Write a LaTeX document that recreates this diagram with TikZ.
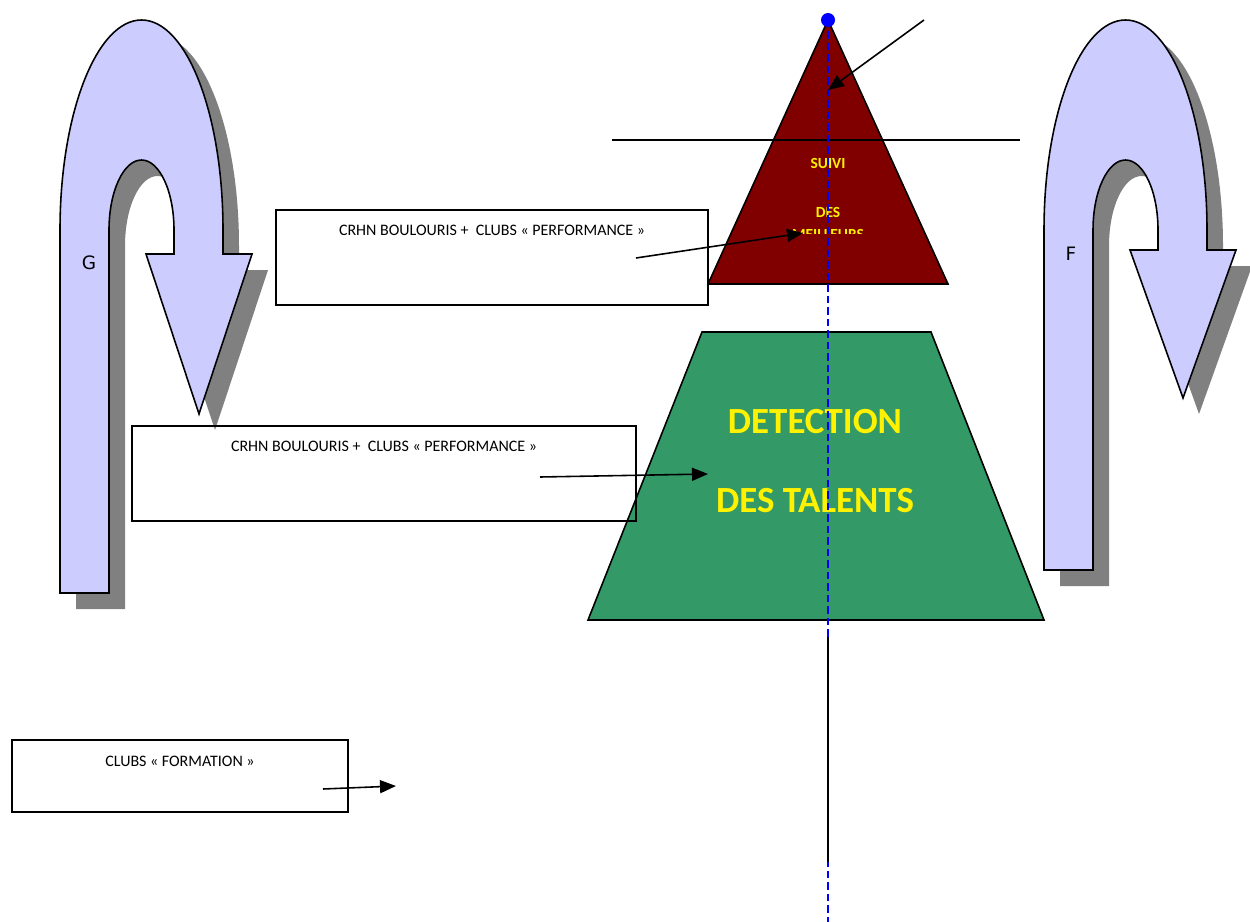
\documentclass[tikz,border=0pt]{standalone}
\usepackage{fontspec}
\setmainfont{Carlito}
\newfontfamily\letterfont{DejaVu Sans}
\usetikzlibrary{positioning,arrows.meta,calc}
\usepackage{xcolor}
\definecolor{lavender}{HTML}{CCCCFF}
\definecolor{shadowgray}{HTML}{808080}
\definecolor{darkmaroon}{HTML}{800000}
\definecolor{talentgreen}{HTML}{339966}

% u-turn arrow: left x, head y, tip y, bottom y
\newcommand{\uturnpath}[4]{(#1,#4) -- (#1,230) arc[start angle=180,end angle=360,x radius=81.5,y radius=210] -- (#1+163,#2) -- (#1+192,#2) -- (#1+139,#3) -- (#1+86,#2) -- (#1+114,#2) -- (#1+114,230) arc[start angle=0,end angle=-180,x radius=32.5,y radius=70] -- (#1+49,#4) -- cycle}

\begin{document}
\begin{tikzpicture}[
  x=0.02cm, y=-0.02cm,
  box/.style={rectangle, draw, line width=0.9pt, inner sep=0pt},
  boxtext/.style={font=\fontsize{9.1}{10}\selectfont, inner sep=0pt},
  pyrtext/.style={font=\fontsize{8.8}{10}\selectfont\bfseries, text=yellow, inner sep=0pt},
  bigtext/.style={font=\fontsize{21}{24}\selectfont\bfseries, text=yellow, inner sep=0pt},
  letter/.style={font=\letterfont\fontsize{10.5}{13}\selectfont, inner sep=0pt},
  link/.style={draw, line width=0.9pt, -{Triangle[length=0.32cm, width=0.26cm]}},
  outline/.style={draw, line width=0.9pt},
]
  \useasboundingbox (0,0) rectangle (1250,922);

  % U-turn arrows with shadows
  \fill[shadowgray, shift={(16,16)}] \uturnpath{60}{254}{414}{593};
  \filldraw[outline, fill=lavender] \uturnpath{60}{254}{414}{593};
  \fill[shadowgray, shift={(16,16)}] \uturnpath{1044}{250}{398}{570};
  \filldraw[outline, fill=lavender] \uturnpath{1044}{250}{398}{570};
  \node[letter] (G) at (89,263) {G};
  \node[letter] (F) at (1071,254) {F};

  % Pyramid
  \coordinate (apex) at (828,20);
  \filldraw[outline, fill=darkmaroon] (apex) -- (948,284) -- (708,284) -- cycle;
  \filldraw[outline, fill=talentgreen] (702,332) -- (931,332) -- (1044,620) -- (588,620) -- cycle;
  \node[pyrtext] (suivi) at (828,163) {SUIVI};
  \node[pyrtext] (des) at (828,212) {DES};
  \begin{scope}
    \clip (700,150) rectangle (960,233);
    \node[pyrtext] (meilleurs) at (828,234) {MEILLEURS};
  \end{scope}
  \node[bigtext] (detection) at (815,422) {DETECTION};
  \node[bigtext] (talents) at (815,501) {DES TALENTS};

  % Lines
  \coordinate (levelL) at (612,140);
  \coordinate (levelR) at (1020,140);
  \draw[line width=0.9pt] (levelL) -- (levelR);
  \coordinate (axisEnd) at (828,922);
  \draw[blue, line width=0.8pt, dash pattern=on 0.15cm off 0.08cm] (apex) -- (axisEnd);
  \fill[blue] (apex) circle[radius=0.14cm];
  \coordinate (axisTop) at (828,637);
  \coordinate (axisBot) at (828,862);
  \draw[line width=0.9pt] (axisTop) -- (axisBot);

  % Boxes
  \node[box, minimum width=8.64cm, minimum height=1.9cm] (perfA) at (492,257.5) {};
  \node[boxtext, yshift=-0.42cm] at (perfA.north) {CRHN BOULOURIS +\ \ CLUBS « PERFORMANCE »};
  \node[box, minimum width=10.08cm, minimum height=1.9cm] (perfB) at (384,473.5) {};
  \node[boxtext, yshift=-0.42cm] at (perfB.north) {CRHN BOULOURIS +\ \ CLUBS « PERFORMANCE »};
  \node[box, minimum width=6.72cm, minimum height=1.44cm] (formation) at (180,776) {};
  \node[boxtext, yshift=-0.44cm] at (formation.north) {CLUBS « FORMATION »};

  % Arrows
  \coordinate (topS) at (924,20);
  \coordinate (topE) at (828,90);
  \coordinate (perfAS) at (636,258);
  \coordinate (perfAE) at (803,233);
  \coordinate (perfBS) at (540,477);
  \coordinate (perfBE) at (708,474);
  \coordinate (formS) at (323,789);
  \coordinate (formE) at (396,786);
  \path[link] (topS) -- (topE);
  \path[link] (perfAS) -- (perfAE);
  \path[link] (perfBS) -- (perfBE);
  \path[link] (formS) -- (formE);
\end{tikzpicture}
\end{document}
